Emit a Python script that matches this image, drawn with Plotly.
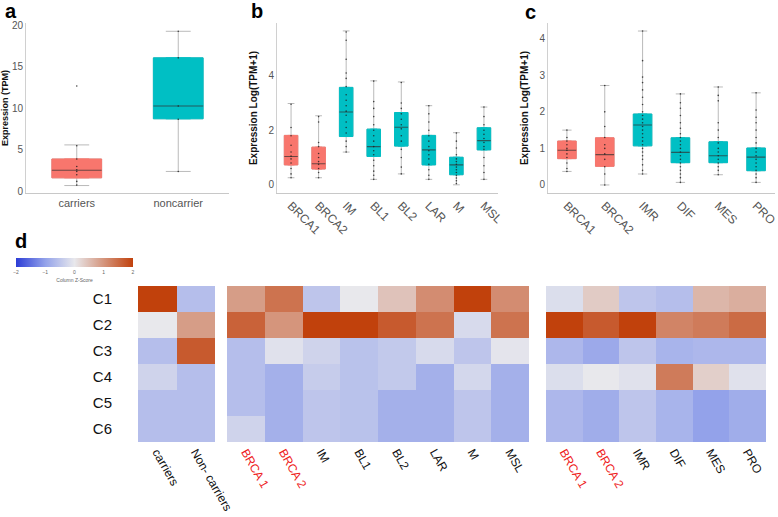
import plotly.graph_objects as go

W, H = 778, 517

RED = "#f8766d"
TEAL = "#00bfc4"

# ---------------- panel a ----------------
a_cats = ["carriers", "noncarrier"]
a_q1 = [1.63, 8.75]
a_med = [2.54, 10.3]
a_q3 = [3.9, 16.1]
a_lo = [0.7, 2.4]
a_hi = [5.6, 19.3]
a_pts = [[12.7, 5.5, 3.9, 3.0, 2.6, 2.4, 2.0, 1.2, 0.75],
         [19.3, 16.1, 10.3, 8.7, 2.4]]
a_col = [RED, TEAL]

# ---------------- panel b ----------------
b_cats = ["BRCA1", "BRCA2", "IM", "BL1", "BL2", "LAR", "M", "MSL"]
b_q1 = [0.73, 0.58, 1.77, 1.04, 1.42, 0.73, 0.37, 1.28]
b_med = [1.04, 0.77, 2.67, 1.40, 2.11, 1.28, 0.73, 1.62]
b_q3 = [1.81, 1.38, 3.57, 2.04, 2.65, 1.81, 1.01, 2.09]
b_lo = [0.26, 0.26, 1.20, 0.20, 0.40, 0.20, 0.00, 0.20]
b_hi = [2.98, 2.53, 5.64, 3.81, 3.77, 2.90, 1.91, 2.85]
b_pts = [
    [2.95, 2.1, 1.8, 1.45, 1.2, 1.05, 0.95, 0.8, 0.6, 0.4, 0.26],
    [2.5, 2.3, 1.55, 1.4, 1.15, 1.0, 0.85, 0.75, 0.6, 0.45, 0.26],
    [5.6, 5.3, 4.6, 4.1, 3.9, 3.6, 3.3, 3.1, 2.9, 2.7, 2.55, 2.3, 2.1, 1.9, 1.6, 1.4, 1.2],
    [3.8, 3.05, 2.8, 2.5, 2.2, 2.0, 1.8, 1.6, 1.4, 1.25, 1.1, 0.9, 0.7, 0.5, 0.35, 0.2],
    [3.75, 3.0, 2.8, 2.6, 2.4, 2.2, 2.05, 1.8, 1.6, 1.3, 1.0, 0.65, 0.4],
    [2.9, 2.6, 2.3, 2.0, 1.8, 1.6, 1.4, 1.25, 1.1, 0.95, 0.75, 0.55, 0.35, 0.2],
    [1.9, 1.6, 1.35, 1.1, 0.95, 0.85, 0.75, 0.65, 0.55, 0.45, 0.35, 0.25, 0.15, 0.05],
    [2.85, 2.5, 2.2, 2.0, 1.85, 1.7, 1.55, 1.4, 1.3, 1.0, 0.7, 0.45, 0.2],
]
b_col = [RED, RED, TEAL, TEAL, TEAL, TEAL, TEAL, TEAL]

# ---------------- panel c ----------------
c_cats = ["BRCA1", "BRCA2", "IMR", "DIF", "MES", "PRO"]
c_q1 = [0.72, 0.51, 1.07, 0.61, 0.61, 0.39]
c_med = [0.95, 0.83, 1.64, 0.89, 0.80, 0.76]
c_q3 = [1.20, 1.29, 1.94, 1.29, 1.18, 1.01]
c_lo = [0.37, 0.00, 0.30, 0.07, 0.28, 0.07]
c_hi = [1.50, 2.72, 4.21, 2.49, 2.68, 2.52]
c_pts = [
    [1.5, 1.3, 1.2, 1.1, 1.0, 0.95, 0.85, 0.75, 0.6, 0.45, 0.37],
    [2.72, 2.0, 1.6, 1.3, 1.1, 1.0, 0.85, 0.7, 0.5, 0.3, 0.0],
    [4.21, 3.4, 2.95, 2.8, 2.6, 2.4, 2.2, 2.0, 1.9, 1.8, 1.7, 1.6, 1.5, 1.4, 1.3,
     1.2, 1.1, 1.0, 0.9, 0.8, 0.7, 0.55, 0.4, 0.3],
    [2.49, 2.25, 2.1, 1.9, 1.7, 1.55, 1.4, 1.3, 1.2, 1.1, 1.0, 0.9, 0.8, 0.7, 0.6,
     0.5, 0.4, 0.3, 0.2, 0.07],
    [2.68, 2.45, 2.3, 1.7, 1.5, 1.3, 1.15, 1.0, 0.9, 0.8, 0.7, 0.6, 0.5, 0.4, 0.28],
    [2.52, 2.05, 1.85, 1.7, 1.5, 1.3, 1.15, 1.0, 0.9, 0.8, 0.7, 0.6, 0.5, 0.4, 0.3,
     0.2, 0.07],
]
c_col = [RED, RED, TEAL, TEAL, TEAL, TEAL]

# ---------------- panel d (heatmaps, column Z-scores) ----------------
hm_rows = ["C1", "C2", "C3", "C4", "C5", "C6"]
hm1_cols = ["carriers", "Non- carriers"]
hm1_z = [
    [2.0, -0.6],
    [0.0, 0.9],
    [-0.6, 1.7],
    [-0.3, -0.6],
    [-0.6, -0.6],
    [-0.6, -0.6],
]
hm2_cols = ["BRCA 1", "BRCA 2", "IM", "BL1", "BL2", "LAR", "M", "MSL"]
hm2_z = [
    [0.9, 1.4, -0.5, 0.0, 0.45, 1.1, 2.0, 1.1],
    [1.6, 1.0, 2.0, 2.0, 1.7, 1.4, -0.2, 1.4],
    [-0.6, -0.1, -0.3, -0.55, -0.45, -0.2, -0.5, -0.05],
    [-0.6, -0.8, -0.4, -0.55, -0.45, -0.8, -0.25, -0.8],
    [-0.6, -0.8, -0.5, -0.55, -0.8, -0.8, -0.5, -0.8],
    [-0.3, -0.8, -0.5, -0.55, -0.8, -0.8, -0.5, -0.8],
]
hm3_cols = ["BRCA 1", "BRCA 2", "IMR", "DIF", "MES", "PRO"]
hm3_z = [
    [-0.15, 0.35, -0.5, -0.6, 0.6, 0.7],
    [2.0, 1.7, 2.0, 1.2, 1.3, 1.5],
    [-0.7, -0.9, -0.5, -0.75, -0.7, -0.7],
    [-0.15, 0.0, -0.1, 1.3, 0.3, -0.1],
    [-0.7, -0.85, -0.5, -0.75, -1.0, -0.85],
    [-0.7, -0.85, -0.5, -0.75, -1.0, -0.85],
]
red_labels = {"BRCA 1", "BRCA 2"}


def xd(x0, x1):
    return [x0 / W, x1 / W]


def yd(top, bottom):
    return [1 - bottom / H, 1 - top / H]


fig = go.Figure()


def add_boxes(cats, q1, med, q3, lo, hi, cols, pts, xa, ya):
    for i, c in enumerate(cats):
        # whiskers (thin gray)
        fig.add_trace(go.Box(x=[c], q1=[q1[i]], median=[med[i]], q3=[q3[i]],
                             lowerfence=[lo[i]], upperfence=[hi[i]],
                             fillcolor="rgba(0,0,0,0)",
                             line=dict(color="#a8a8a8", width=0.8),
                             xaxis=xa, yaxis=ya, showlegend=False,
                             hoverinfo="skip"))
        # box body
        fig.add_trace(go.Box(x=[c], q1=[q1[i]], median=[med[i]], q3=[q3[i]],
                             lowerfence=[q1[i]], upperfence=[q3[i]],
                             fillcolor=cols[i],
                             line=dict(color=cols[i], width=1),
                             xaxis=xa, yaxis=ya, showlegend=False,
                             hoverinfo="skip"))
        # median line
        fig.add_trace(go.Box(x=[c], q1=[med[i]], median=[med[i]], q3=[med[i]],
                             lowerfence=[med[i]], upperfence=[med[i]],
                             fillcolor="rgba(0,0,0,0)",
                             line=dict(color="rgba(50,50,50,0.7)", width=1.1),
                             xaxis=xa, yaxis=ya, showlegend=False,
                             hoverinfo="skip"))
        fig.add_trace(go.Scatter(x=[c] * len(pts[i]), y=pts[i], mode="markers",
                                 marker=dict(size=1.6, color="rgba(30,30,30,0.8)"),
                                 xaxis=xa, yaxis=ya, showlegend=False,
                                 hoverinfo="skip"))


add_boxes(a_cats, a_q1, a_med, a_q3, a_lo, a_hi, a_col, a_pts, "x", "y")
add_boxes(b_cats, b_q1, b_med, b_q3, b_lo, b_hi, b_col, b_pts, "x2", "y2")
add_boxes(c_cats, c_q1, c_med, c_q3, c_lo, c_hi, c_col, c_pts, "x3", "y3")

fig.add_trace(go.Heatmap(x=hm1_cols, y=hm_rows, z=hm1_z, coloraxis="coloraxis",
                         xaxis="x4", yaxis="y4", hoverinfo="skip"))
fig.add_trace(go.Heatmap(x=hm2_cols, y=hm_rows, z=hm2_z, coloraxis="coloraxis",
                         xaxis="x5", yaxis="y5", hoverinfo="skip"))
fig.add_trace(go.Heatmap(x=hm3_cols, y=hm_rows, z=hm3_z, coloraxis="coloraxis",
                         xaxis="x6", yaxis="y6", hoverinfo="skip"))

FONT = "Liberation Sans, Arial, sans-serif"


def box_x(domain, anchor, angle, size):
    return dict(domain=domain, anchor=anchor, type="category", showline=True,
                linecolor="#c8c8c8", linewidth=1, ticks="", showgrid=False,
                zeroline=False, tickangle=angle, automargin=False,
                tickfont=dict(family=FONT, size=size, color="#555555"))


def box_y(domain, anchor, rng, tv, title, size, standoff):
    return dict(domain=domain, anchor=anchor, range=rng, tickvals=tv,
                showline=True, linecolor="#d0d0d0", linewidth=1, ticks="",
                showgrid=False, zeroline=False, automargin=False,
                tickfont=dict(family=FONT, size=10, color="#555555"),
                title=dict(text="<b>" + title + "</b>",
                           font=dict(family=FONT, size=size, color="#111"),
                           standoff=standoff))


def hm_ticks(cols):
    out = []
    for c in cols:
        if c in red_labels:
            out.append("<span style='color:#ee1c1c'>" + c + "</span>")
        else:
            out.append(c)
    return out


yd_box = yd(23, 193)
yd_hm = yd(286, 442)

hm_x_common = dict(tickangle=60, ticks="", showgrid=False, zeroline=False,
                   showline=False, automargin=False)
hm_y_hidden = dict(autorange="reversed", showticklabels=False, ticks="",
                   showgrid=False, zeroline=False, showline=False,
                   automargin=False)

fig.update_layout(
    width=W, height=H,
    margin=dict(l=0, r=0, t=0, b=0, autoexpand=False),
    paper_bgcolor="white", plot_bgcolor="white",
    boxmode="overlay", boxgap=0.3,
    font=dict(family=FONT),
    xaxis=box_x(xd(26, 229), "y", 0, 11),
    yaxis=box_y(yd_box, "x", [-0.2, 20.3], [0, 5, 10, 15, 20],
                "Expression (TPM)", 9, 4),
    xaxis2=box_x(xd(277, 498), "y2", 45, 12),
    yaxis2=box_y(yd_box, "x2", [-0.3, 5.93], [0, 2, 4],
                 "Expression Log(TPM+1)", 10, 8),
    xaxis3=box_x(xd(548, 775), "y3", 45, 12),
    yaxis3=box_y(yd_box, "x3", [-0.22, 4.43], [0, 1, 2, 3, 4],
                 "Expression Log(TPM+1)", 10, 8),
    xaxis4=dict(domain=xd(138, 215), anchor="y4",
                tickfont=dict(family=FONT, size=12, color="#111"), **hm_x_common),
    yaxis4=dict(domain=yd_hm, anchor="x4", autorange="reversed", ticks="outside",
                ticklen=22, tickcolor="rgba(0,0,0,0)", showgrid=False,
                zeroline=False, showline=False, automargin=False,
                tickfont=dict(family=FONT, size=15, color="#111")),
    xaxis5=dict(domain=xd(227, 529), anchor="y5",
                tickvals=hm2_cols, ticktext=hm_ticks(hm2_cols),
                tickfont=dict(family=FONT, size=12, color="#111"), **hm_x_common),
    yaxis5=dict(domain=yd_hm, anchor="x5", **hm_y_hidden),
    xaxis6=dict(domain=xd(546, 766), anchor="y6",
                tickvals=hm3_cols, ticktext=hm_ticks(hm3_cols),
                tickfont=dict(family=FONT, size=12, color="#111"), **hm_x_common),
    yaxis6=dict(domain=yd_hm, anchor="x6", **hm_y_hidden),
    coloraxis=dict(
        cmin=-2, cmax=2,
        colorscale=[[0, "#2c3dd6"], [0.25, "#93a2ea"], [0.5, "#e8e8ec"],
                    [1, "#c1410c"]],
        colorbar=dict(orientation="h", x=74.5 / W, xanchor="center",
                      y=1 - 258 / H, yanchor="top", len=117, lenmode="pixels",
                      thickness=9, outlinewidth=0, xpad=0, ypad=0,
                      tickvals=[-2, -1, 0, 1, 2], ticks="",
                      tickfont=dict(family=FONT, size=5, color="#666"),
                      title=dict(text="Column Z-Score", side="bottom",
                                 font=dict(family=FONT, size=5, color="#666"))),
    ),
    showlegend=False,
)

for txt, xp, yp in [("a", 3, -2), ("b", 249, -2), ("c", 523, -1), ("d", 13, 228)]:
    fig.add_annotation(text="<b>" + txt + "</b>", x=xp / W, y=1 - yp / H,
                       xref="paper", yref="paper", xanchor="left",
                       yanchor="top", showarrow=False,
                       font=dict(family=FONT, size=20, color="#000"))

fig.write_html("out.html", config={"displayModeBar": False},
               post_script="document.body.style.margin='0';")
